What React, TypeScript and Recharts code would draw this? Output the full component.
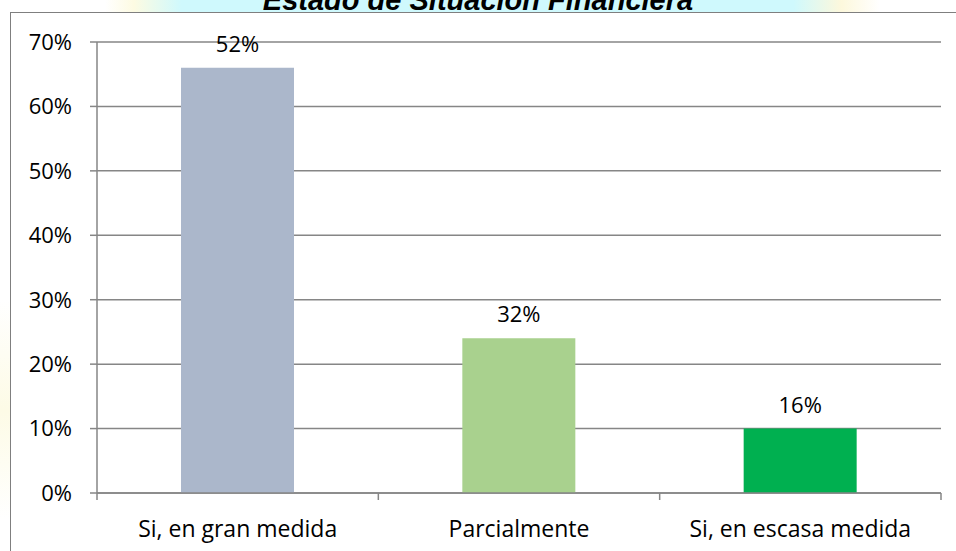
import { BarChart, Bar, XAxis, YAxis, CartesianGrid, Cell, LabelList } from "recharts";

const categories = ["Si, en gran medida", "Parcialmente", "Si, en escasa medida"];
const barValues = [0.66, 0.24, 0.1];
const barLabels = ["52%", "32%", "16%"];
const barColors = ["#ABB7CB", "#A9D18E", "#00B050"];
const yTicks = [0, 0.1, 0.2, 0.3, 0.4, 0.5, 0.6, 0.7];

const data = categories.map((name, i) => ({ name, value: barValues[i], label: barLabels[i] }));

const FONT = "'Open Sans', sans-serif";
const GRID = "#868686";

// category label plus the little tick marks that sit on the category boundaries
function CategoryTick(props: any) {
  const { x, y, payload, width, visibleTicksCount, index } = props;
  const half = width / visibleTicksCount / 2;
  return (
    <g>
      <line x1={x - half} x2={x - half} y1={y} y2={y + 7} stroke={GRID} strokeWidth={1.5} />
      {index === visibleTicksCount - 1 && (
        <line x1={x + half} x2={x + half} y1={y} y2={y + 7} stroke={GRID} strokeWidth={1.5} />
      )}
      <text x={x} y={y + 44} textAnchor="middle" fill="#000" fontSize={23} fontFamily={FONT}>
        {payload.value}
      </text>
    </g>
  );
}

export default function App() {
  return (
    <div style={{ position: "absolute", left: 0, top: 0, width: 956, height: 551, overflow: "hidden", background: "#fff" }}>
      {/* watermark-ish background strip behind the title */}
      <div style={{
        position: "absolute", left: 0, top: 0, width: 956, height: 14,
        background: "linear-gradient(to right, #fff 0%, #fff 11%, #fdfbe2 14%, #cff9fd 19%, #cff9fd 83%, #fdf8dc 88%, #fff 92%)",
      }} />
      <div style={{
        position: "absolute", left: 0, top: 300, width: 10, height: 220,
        background: "linear-gradient(to bottom, #fff, #fdfbe6, #fff)",
      }} />
      <div style={{
        position: "absolute", left: 0, top: -14, width: 956, textAlign: "center",
        fontFamily: "'Liberation Sans', Arial, sans-serif", fontWeight: "bold", fontStyle: "italic",
        fontSize: 29, lineHeight: "29px", color: "#000",
      }}>
        Estado de Situación Financiera
      </div>
      <div style={{
        position: "absolute", left: 10, top: 12, width: 970, height: 570,
        border: "1px solid #7f7f7f", background: "#fff",
      }} />
      <div style={{ position: "absolute", left: 0, top: 0 }}>
        <BarChart width={956} height={551} data={data} margin={{ top: 42, right: 15, left: 0, bottom: 0 }}>
          <CartesianGrid vertical={false} stroke={GRID} strokeWidth={1.5} />
          <XAxis
            dataKey="name" height={58} axisLine={{ stroke: GRID, strokeWidth: 1.5 }} tickLine={false}
            tickSize={0} tickMargin={0} interval={0} tick={<CategoryTick />}
          />
          <YAxis
            width={97} domain={[0, 0.7]} ticks={yTicks} tickSize={7} tickMargin={18}
            tickFormatter={(v: number) => `${Math.round(v * 100)}%`}
            axisLine={{ stroke: GRID, strokeWidth: 1.5 }} tickLine={{ stroke: GRID, strokeWidth: 1.5 }}
            tick={{ fill: "#000", fontSize: 22, fontFamily: FONT }}
          />
          <Bar dataKey="value" barSize={113} isAnimationActive={false}>
            {data.map((d, i) => <Cell key={d.name} fill={barColors[i]} />)}
            <LabelList dataKey="label" position="top" offset={16} fill="#000" fontSize={22} fontFamily={FONT} />
          </Bar>
        </BarChart>
      </div>
    </div>
  );
}
